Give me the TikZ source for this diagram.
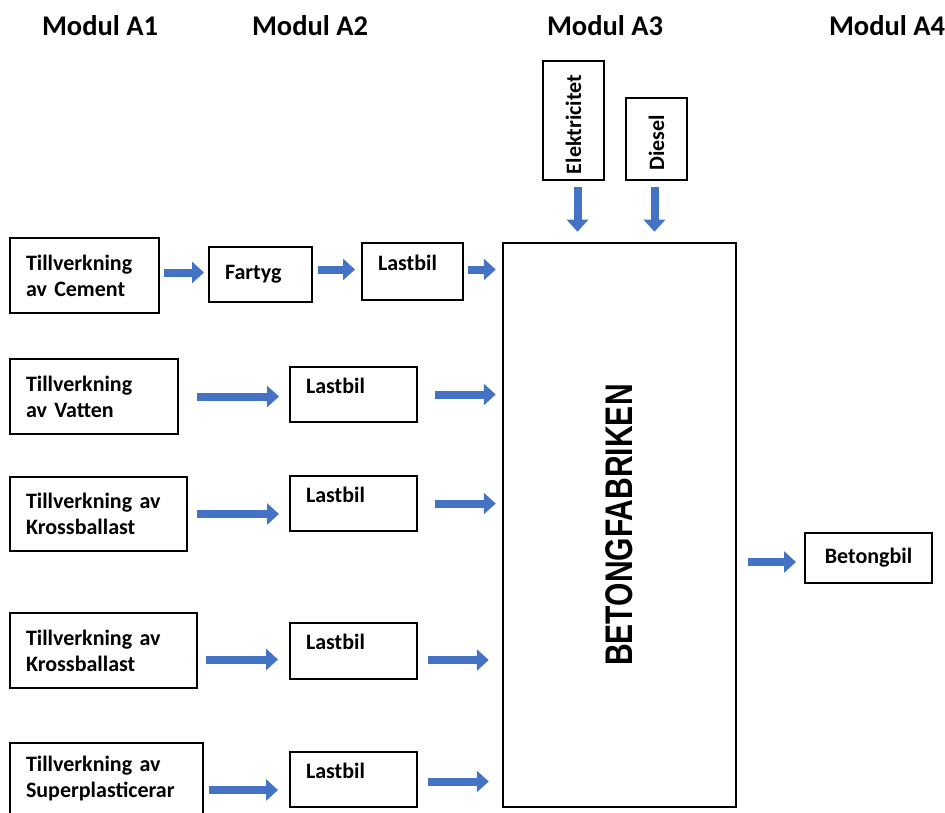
\documentclass[tikz,border=0pt]{standalone}
\usepackage{fontspec}
\usepackage{graphicx}
\setmainfont{Carlito}
\newfontfamily\arialfont{Liberation Sans}
\usetikzlibrary{arrows.meta}
\definecolor{flowblue}{RGB}{68,114,196}

\begin{document}
\begin{tikzpicture}[x=1pt,y=-1pt,
  box/.style={draw, line width=2pt, font=\bfseries\fontsize{22}{26}\selectfont, align=left, inner xsep=16pt, inner ysep=0pt},
  truck/.style={box, text width=95pt, text height=15pt, text depth=17.5pt},
  upbox/.style={draw, line width=2pt, font=\bfseries\fontsize{22}{26}\selectfont, inner sep=0pt},
  flow/.style={draw=flowblue, line width=8pt, -{Triangle[length=12pt,width=21pt]}},
  modul/.style={font=\bfseries\fontsize{28.5}{32}\selectfont}]
\useasboundingbox (0,0) rectangle (945,813);

\node[modul] (m1) at (100,26) {Modul A1};
\node[modul] (m2) at (310,26) {Modul A2};
\node[modul] (m3) at (605,26) {Modul A3};
\node[modul] (m4) at (887,26) {Modul A4};

\node[box, text width=117pt, minimum height=75pt] (cement) at (84.5,275.5) {Tillverkning\\av Cement};
\node[box, text width=71pt, minimum height=55pt] (fartyg) at (260.5,274.5) {Fartyg};
\node[truck, text width=69pt, minimum height=57pt] (last1) at (412.5,271.5) {Lastbil};

\node[box, text width=136pt, minimum height=75pt] (vatten) at (94,396.5) {Tillverkning\\av Vatten};
\node[truck, minimum height=55pt] (lastb2) at (353.5,394.5) {Lastbil};

\node[box, text width=145pt, minimum height=74pt] (kross1) at (98.5,514) {Tillverkning av\\Krossballast};
\node[truck, minimum height=55pt] (lastb3) at (353.5,503.5) {Lastbil};

\node[box, text width=155pt, minimum height=75pt] (kross2) at (103.5,650.5) {Tillverkning av\\Krossballast};
\node[truck, minimum height=56pt] (lastb4) at (353.5,651) {Lastbil};

\node[box, text width=161pt, minimum height=72pt] (super) at (106.5,779) {Tillverkning av\\Superplasticerar};
\node[truck, minimum height=55pt] (lastb5) at (353.5,779.5) {Lastbil};

\node[upbox, line width=2.5pt, minimum width=233pt, minimum height=564pt] (fabrik) at (619.5,525)
  {\rotatebox{90}{\scalebox{0.78}[1]{\arialfont\bfseries\fontsize{38.5}{40}\selectfont BETONGFABRIKEN}}};
\node[upbox, minimum width=61pt, minimum height=119pt] (elek) at (573.5,120.5) {\rotatebox{90}{Elektricitet\hspace*{8pt}}};
\node[upbox, minimum width=61pt, minimum height=82pt] (diesel) at (656.5,139) {\rotatebox{90}{Diesel\hspace*{8pt}}};

\node[box, align=center, text width=95pt, minimum height=50pt] (betong) at (868.5,558) {Betongbil};

\draw[flow] ([xshift=4pt,yshift=3pt]cement.east) -- ([xshift=-4pt,yshift=3pt]cement.east -| fartyg.west);
\draw[flow] ([xshift=5pt,yshift=2pt]fartyg.east |- last1.west) -- ([xshift=-6pt,yshift=2pt]last1.west);
\draw[flow] ([xshift=4pt,yshift=2pt]last1.east) -- ([xshift=-6pt,yshift=2pt]last1.east -| fabrik.west);

\draw[flow] ([xshift=18pt]vatten.east) -- ([xshift=-10pt]vatten.east -| lastb2.west);
\draw[flow] ([xshift=17pt]lastb2.east) -- ([xshift=-6pt]lastb2.east -| fabrik.west);

\draw[flow] ([xshift=9pt]kross1.east) -- ([xshift=-10pt]kross1.east -| lastb3.west);
\draw[flow] ([xshift=17pt]lastb3.east) -- ([xshift=-6pt]lastb3.east -| fabrik.west);

\draw[flow] ([xshift=8pt,yshift=-9pt]kross2.east) -- ([xshift=-11pt,yshift=-9pt]kross2.east -| lastb4.west);
\draw[flow] ([xshift=10pt,yshift=-9pt]lastb4.east) -- ([xshift=-13pt,yshift=-9pt]lastb4.east -| fabrik.west);

\draw[flow] ([xshift=5pt,yshift=-11pt]super.east) -- ([xshift=-11pt,yshift=-11pt]super.east -| lastb5.west);
\draw[flow] ([xshift=10pt,yshift=-2pt]lastb5.east) -- ([xshift=-13pt,yshift=-2pt]lastb5.east -| fabrik.west);

\draw[flow] ([xshift=4pt,yshift=-6pt]elek.south) -- ([xshift=4pt,yshift=10pt]elek.south |- fabrik.north);
\draw[flow] ([xshift=-2pt,yshift=-6pt]diesel.south) -- ([xshift=-2pt,yshift=10pt]diesel.south |- fabrik.north);

\draw[flow] ([xshift=11pt,yshift=-4pt]fabrik.east |- betong.west) -- ([xshift=-8pt,yshift=-4pt]betong.west);
\end{tikzpicture}
\end{document}
